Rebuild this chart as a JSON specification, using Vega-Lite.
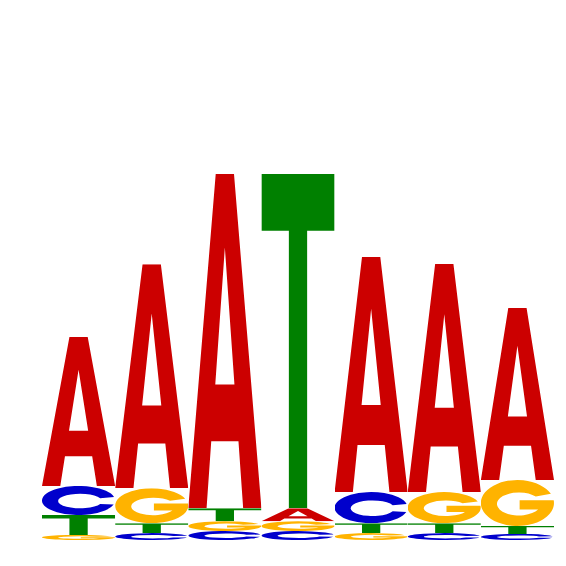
{
  "$schema": "https://vega.github.io/schema/vega-lite/v6.json",
  "width": 512,
  "height": 510,
  "autosize": {"type": "none"},
  "padding": {"left": 42, "top": 30, "right": 12, "bottom": 26},
  "background": "white",
  "data": {
    "values": [
      {"pos": 1, "letter": "G", "bits": 0.020},
      {"pos": 1, "letter": "T", "bits": 0.078},
      {"pos": 1, "letter": "C", "bits": 0.114},
      {"pos": 1, "letter": "A", "bits": 0.584},
      {"pos": 2, "letter": "C", "bits": 0.027},
      {"pos": 2, "letter": "T", "bits": 0.039},
      {"pos": 2, "letter": "G", "bits": 0.137},
      {"pos": 2, "letter": "A", "bits": 0.878},
      {"pos": 3, "letter": "C", "bits": 0.035},
      {"pos": 3, "letter": "G", "bits": 0.039},
      {"pos": 3, "letter": "T", "bits": 0.051},
      {"pos": 3, "letter": "A", "bits": 1.310},
      {"pos": 4, "letter": "C", "bits": 0.035},
      {"pos": 4, "letter": "G", "bits": 0.039},
      {"pos": 4, "letter": "A", "bits": 0.051},
      {"pos": 4, "letter": "T", "bits": 1.310},
      {"pos": 5, "letter": "G", "bits": 0.027},
      {"pos": 5, "letter": "T", "bits": 0.039},
      {"pos": 5, "letter": "C", "bits": 0.122},
      {"pos": 5, "letter": "A", "bits": 0.922},
      {"pos": 6, "letter": "C", "bits": 0.027},
      {"pos": 6, "letter": "T", "bits": 0.039},
      {"pos": 6, "letter": "G", "bits": 0.122},
      {"pos": 6, "letter": "A", "bits": 0.894},
      {"pos": 7, "letter": "C", "bits": 0.024},
      {"pos": 7, "letter": "T", "bits": 0.031},
      {"pos": 7, "letter": "G", "bits": 0.180},
      {"pos": 7, "letter": "A", "bits": 0.675}
    ]
  },
  "transform": [
    {
      "stack": "bits",
      "groupby": ["pos"],
      "sort": [{"field": "bits", "order": "ascending"}],
      "as": ["y0", "y1"]
    }
  ],
  "mark": {"type": "image", "aspect": false},
  "encoding": {
    "x": {
      "field": "pos",
      "type": "ordinal",
      "scale": {"paddingInner": 0, "paddingOuter": 0},
      "axis": null
    },
    "y": {
      "field": "y0",
      "type": "quantitative",
      "scale": {"domain": [0, 2], "nice": false},
      "axis": null
    },
    "y2": {"field": "y1"},
    "url": {
      "condition": [
        {
          "test": "datum.letter === 'A'",
          "value": "data:image/svg+xml;charset=utf-8,%3Csvg xmlns='http://www.w3.org/2000/svg' viewBox='0 0 100 100' preserveAspectRatio='none'%3E%3Cpath fill='%23CC0000' fill-rule='evenodd' d='M0 100L37.5 0H62.5L100 100H75L68.6 80H31.4L25 100ZM36.9 63H63.1L50 22Z'/%3E%3C/svg%3E"
        },
        {
          "test": "datum.letter === 'C'",
          "value": "data:image/svg+xml;charset=utf-8,%3Csvg xmlns='http://www.w3.org/2000/svg' viewBox='0 0 100 100' preserveAspectRatio='none'%3E%3Cpath fill='%230000CC' d='M98.5 38A50 50 0 1 0 98 64L79.5 62A30 25 0 1 1 79.5 42Z'/%3E%3C/svg%3E"
        },
        {
          "test": "datum.letter === 'G'",
          "value": "data:image/svg+xml;charset=utf-8,%3Csvg xmlns='http://www.w3.org/2000/svg' viewBox='0 0 100 100' preserveAspectRatio='none'%3E%3Cpath fill='%23FFB300' d='M95.8 30A50 50 0 1 0 99.6 44L53 44L53 64L78.3 64A30 25 0 1 1 75.05 36Z'/%3E%3C/svg%3E"
        }
      ],
      "value": "data:image/svg+xml;charset=utf-8,%3Csvg xmlns='http://www.w3.org/2000/svg' viewBox='0 0 100 100' preserveAspectRatio='none'%3E%3Cpath fill='%23008000' d='M0 0H100V17H62.5V100H37.5V17H0Z'/%3E%3C/svg%3E"
    }
  },
  "config": {
    "view": {"stroke": null}
  }
}
